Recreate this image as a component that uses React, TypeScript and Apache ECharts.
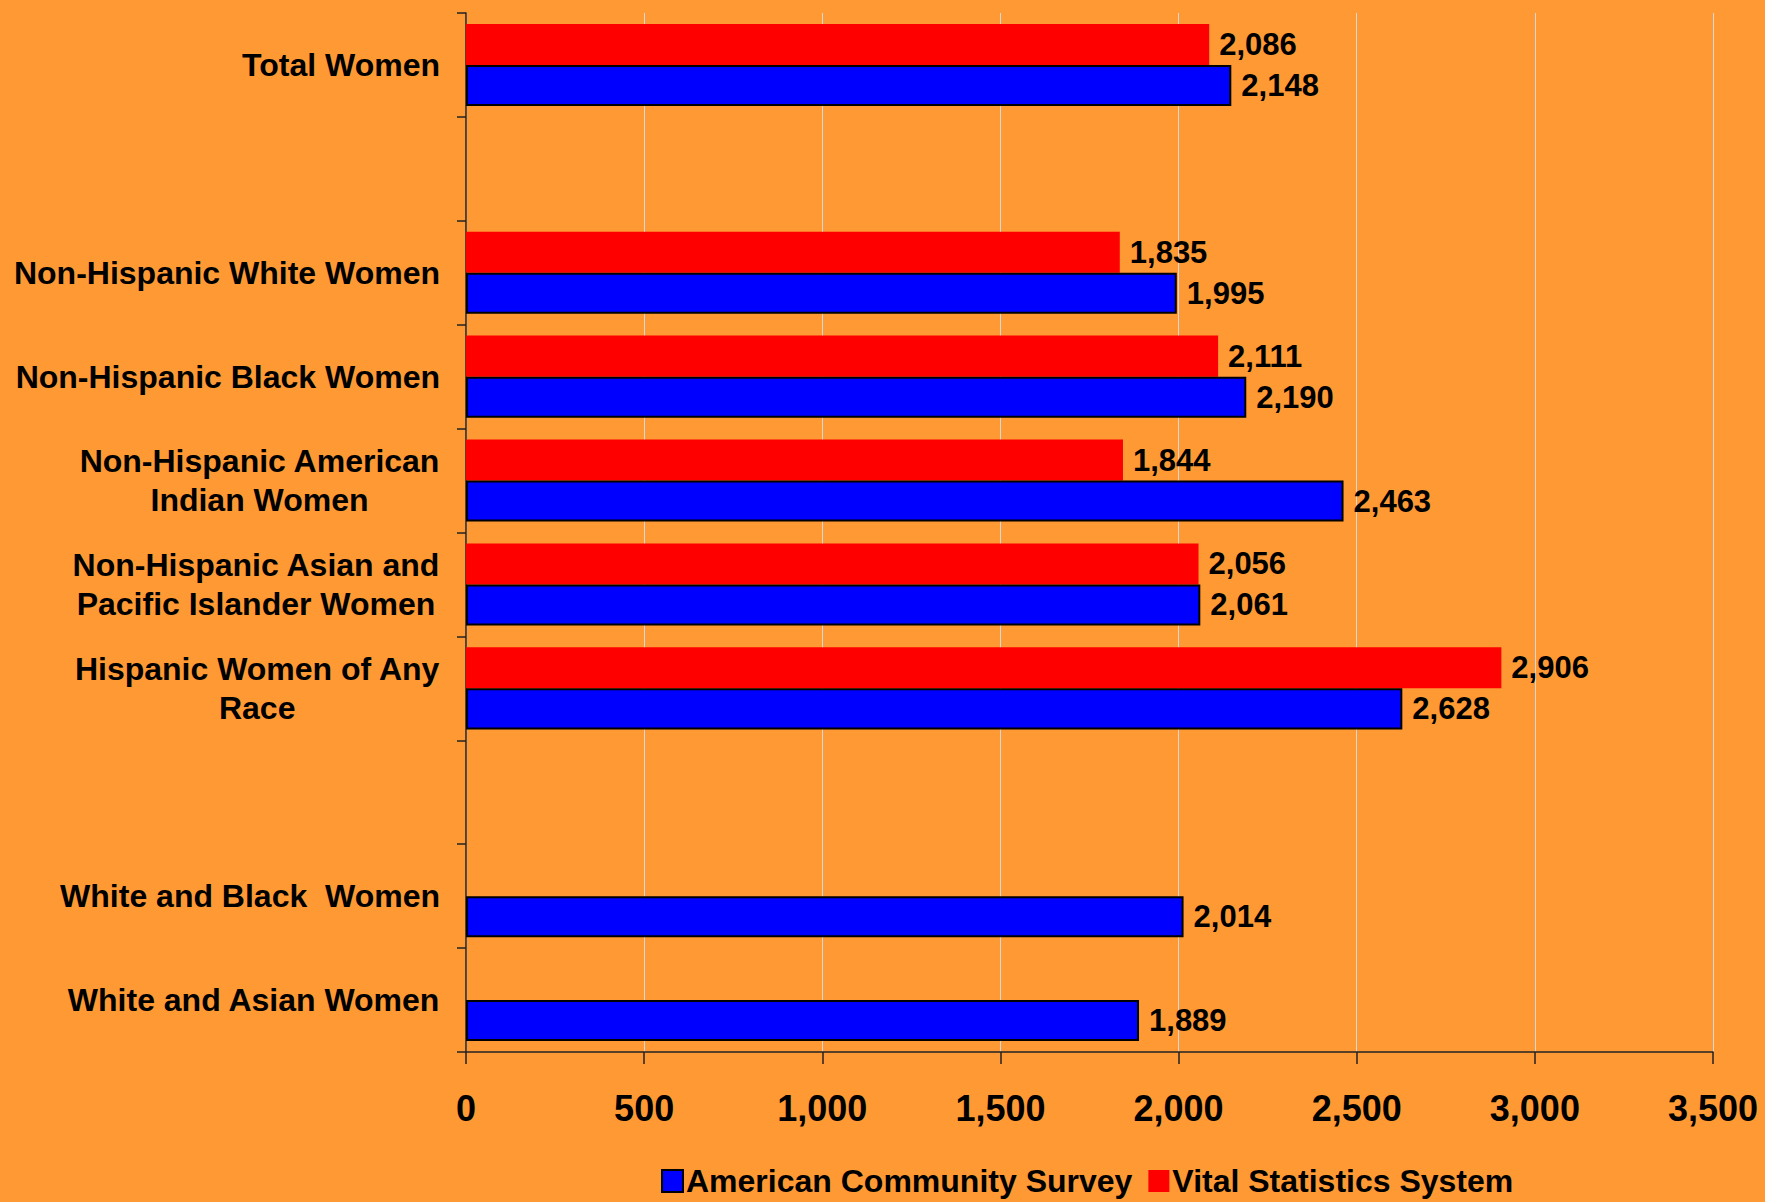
import React, { useEffect, useRef } from 'react';
import * as echarts from 'echarts';

const categories = [
  'Total Women',
  ' ',
  'Non-Hispanic White Women',
  'Non-Hispanic Black Women',
  'Non-Hispanic American\nIndian Women',
  'Non-Hispanic Asian and\nPacific Islander Women',
  'Hispanic Women of Any\nRace',
  '  ',
  'White and Black  Women',
  'White and Asian Women',
];
const acsValues: (number | null)[] = [2148, null, 1995, 2190, 2463, 2061, 2628, null, 2014, 1889];
const vssValues: (number | null)[] = [2086, null, 1835, 2111, 1844, 2056, 2906, null, null, null];
const seriesNames = ['American Community Survey', 'Vital Statistics System'];
const xMin = 0;
const xMax = 3500;
const xStep = 500;

const FONT = '"Liberation Sans", Arial, Helvetica, sans-serif';
const fmt = (v: number) => v.toLocaleString('en-US');

export default function App() {
  const ref = useRef<HTMLDivElement>(null);
  useEffect(() => {
    if (!ref.current) return;
    const chart = echarts.init(ref.current, null, { renderer: 'svg' });
    const labelStyle = {
      show: true,
      position: 'right' as const,
      distance: 10,
      color: '#000',
      fontSize: 31,
      fontWeight: 'bold' as const,
      fontFamily: FONT,
      formatter: (p: any) => (p.value == null ? '' : fmt(p.value)),
    };
    chart.setOption({
      animation: false,
      backgroundColor: '#FF9933',
      textStyle: { fontFamily: FONT },
      grid: { left: 466, right: 52, top: 13, bottom: 150, containLabel: false },
      legend: {
        data: seriesNames,
        left: 661,
        top: 1164,
        padding: 0,
        icon: 'rect',
        itemWidth: 21,
        itemHeight: 22,
        itemGap: 16,
        textStyle: { color: '#000', fontSize: 32, lineHeight: 34, fontWeight: 'bold', fontFamily: FONT, padding: [0, 0, 0, -2] },
      },
      xAxis: {
        type: 'value',
        min: xMin,
        max: xMax,
        interval: xStep,
        axisLine: { show: true, lineStyle: { color: '#222', width: 1.5 } },
        axisTick: { show: true, length: 12, lineStyle: { color: '#222', width: 1.5 } },
        splitLine: { show: true, lineStyle: { color: '#D8D8D8', width: 1 } },
        axisLabel: {
          margin: 38,
          color: '#000',
          fontSize: 36,
          fontWeight: 'bold',
          fontFamily: FONT,
          formatter: (v: number) => fmt(v),
        },
      },
      yAxis: {
        type: 'category',
        inverse: true,
        data: categories,
        axisLine: { show: true, lineStyle: { color: '#222', width: 1.5 } },
        axisTick: { show: true, length: 9, lineStyle: { color: '#222', width: 1.5 } },
        splitLine: { show: false },
        axisLabel: {
          margin: 26,
          align: 'right',
          formatter: (v: string) => v.split('\n').map((l) => `{c|${l}}`).join('\n'),
          rich: {
            c: {
              align: 'center',
              color: '#000',
              fontSize: 32,
              fontWeight: 'bold',
              fontFamily: FONT,
              lineHeight: 39,
            },
          },
        },
      },
      series: [
        {
          name: seriesNames[1],
          type: 'bar',
          data: vssValues.map((v) => (v == null ? '-' : v)),
          barGap: '0%',
          barCategoryGap: '21%',
          itemStyle: { color: '#FF0000' },
          label: labelStyle,
        },
        {
          name: seriesNames[0],
          type: 'bar',
          data: acsValues.map((v) => (v == null ? '-' : v)),
          barGap: '0%',
          barCategoryGap: '21%',
          itemStyle: { color: '#0000FF', borderColor: '#000', borderWidth: 2 },
          label: labelStyle,
        },
      ],
    });
    return () => chart.dispose();
  }, []);
  return (
    <div
      ref={ref}
      style={{ position: 'absolute', left: 0, top: 0, width: 1765, height: 1202 }}
    />
  );
}
